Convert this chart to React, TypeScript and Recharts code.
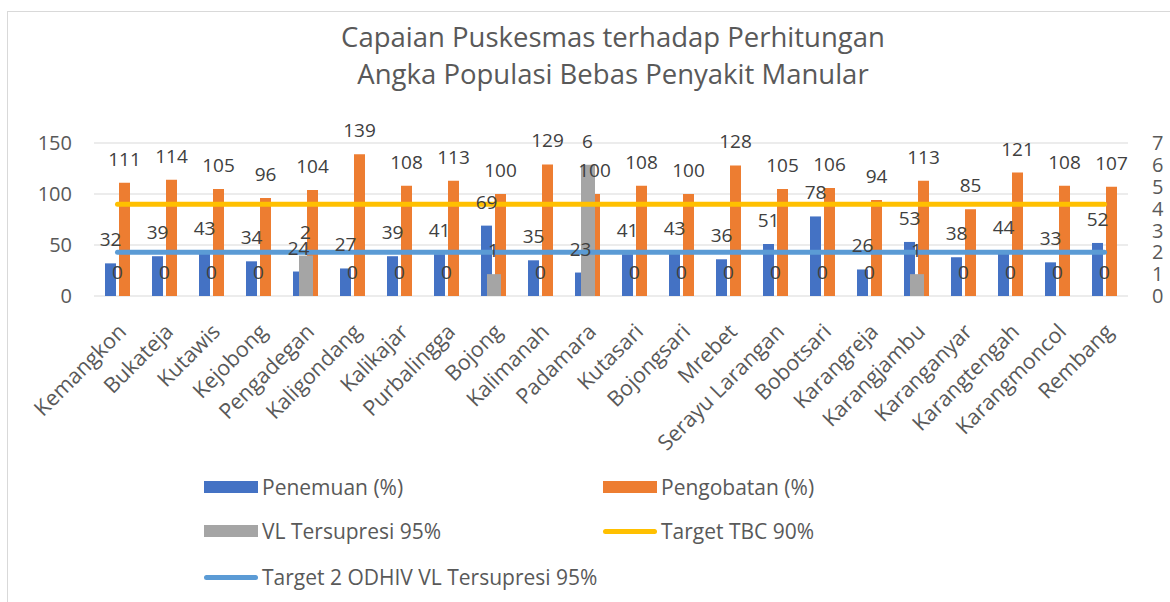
import React from "react";
import {
  Bar,
  CartesianGrid,
  ComposedChart,
  LabelList,
  Legend,
  Line,
  XAxis,
  YAxis
} from "recharts";

const categories = [
  "Kemangkon", "Bukateja", "Kutawis", "Kejobong", "Pengadegan", "Kaligondang",
  "Kalikajar", "Purbalingga", "Bojong", "Kalimanah", "Padamara", "Kutasari",
  "Bojongsari", "Mrebet", "Serayu Larangan", "Bobotsari", "Karangreja",
  "Karangjambu", "Karanganyar", "Karangtengah", "Karangmoncol", "Rembang"
];
const penemuan = [32, 39, 43, 34, 24, 27, 39, 41, 69, 35, 23, 41, 43, 36, 51, 78, 26, 53, 38, 44, 33, 52];
const pengobatan = [111, 114, 105, 96, 104, 139, 108, 113, 100, 129, 100, 108, 100, 128, 105, 106, 94, 113, 85, 121, 108, 107];
const vlTersupresi = [0, 0, 0, 0, 1.85, 0, 0, 0, 1, 0, 6, 0, 0, 0, 0, 0, 0, 1, 0, 0, 0, 0];
const targetTbc = [90, 90, 90, 90, 90, 90, 90, 90, 90, 90, 90, 90, 90, 90, 90, 90, 90, 90, 90, 90, 90, 90];
const targetOdhiv = [2, 2, 2, 2, 2, 2, 2, 2, 2, 2, 2, 2, 2, 2, 2, 2, 2, 2, 2, 2, 2, 2];
const leftTicks = [0, 50, 100, 150];
const rightTicks = [0, 1, 2, 3, 4, 5, 6, 7];

const data = categories.map((name, i) => ({
  name,
  penemuan: penemuan[i],
  pengobatan: pengobatan[i],
  vl: vlTersupresi[i],
  tbc: targetTbc[i],
  odhiv: targetOdhiv[i]
}));

const font = "'Open Sans', sans-serif";
const textColor = "#595959";
const labelColor = "#404040";

const XTick = ({ x, y, payload }: any) => (
  <text
    x={0}
    y={0}
    transform={`translate(${x + 10},${y + 29}) rotate(-45)`}
    textAnchor="end"
    fill={textColor}
    fontSize={21.5}
    fontFamily={font}
  >
    {payload.value}
  </text>
);

const legendRows = [
  { label: "Penemuan (%)", color: "#4472C4", type: "rect", x: 204, y: 22 },
  { label: "Pengobatan (%)", color: "#ED7D31", type: "rect", x: 603, y: 22 },
  { label: "VL Tersupresi 95%", color: "#A5A5A5", type: "rect", x: 204, y: 66 },
  { label: "Target TBC 90%", color: "#FFC000", type: "line", x: 603, y: 66 },
  { label: "Target 2 ODHIV VL Tersupresi 95%", color: "#5B9BD5", type: "line", x: 204, y: 112 }
];

const renderLegend = () => (
  <div style={{ position: "relative", width: 1170, height: 137 }}>
    {legendRows.map((row) => (
      <div
        key={row.label}
        style={{ position: "absolute", left: row.x, top: row.y - 15, height: 30, display: "flex", alignItems: "center" }}
      >
        {row.type === "rect" ? (
          <div style={{ width: 54, height: 12, background: row.color }} />
        ) : (
          <div style={{ width: 54, height: 5, borderRadius: 3, background: row.color }} />
        )}
        <span style={{ marginLeft: 4, fontSize: 21, color: textColor, fontFamily: font, whiteSpace: "nowrap" }}>
          {row.label}
        </span>
      </div>
    ))}
  </div>
);

const roundLabel = (v: any) => String(Math.round(Number(v)));

export default function App() {
  return (
    <div style={{ position: "absolute", left: 0, top: 0, width: 1170, height: 602, overflow: "hidden", background: "#fff" }}>
      <div style={{ position: "absolute", left: 7, top: 11, width: 1180, height: 620, border: "1px solid #D9D9D9" }} />
      <div
        style={{
          position: "absolute",
          left: 263,
          top: 18,
          width: 700,
          textAlign: "center",
          fontFamily: font,
          fontSize: 27.5,
          lineHeight: "37px",
          color: textColor
        }}
      >
        Capaian Puskesmas terhadap Perhitungan
        <br />
        Angka Populasi Bebas Penyakit Manular
      </div>
      <div style={{ position: "absolute", left: 0, top: 0 }}>
        <ComposedChart
          width={1170}
          height={602}
          data={data}
          margin={{ top: 143, right: 0, left: 0, bottom: 0 }}
          barGap={3}
        >
          <CartesianGrid vertical={false} stroke="#D9D9D9" xAxisId="main" yAxisId="left" />
          <XAxis
            xAxisId="main"
            dataKey="name"
            height={306}
            interval={0}
            tickLine={false}
            axisLine={false}
            tick={<XTick />}
          />
          <XAxis xAxisId="vl" dataKey="name" hide />
          <YAxis
            yAxisId="left"
            width={94}
            domain={[0, 150]}
            ticks={leftTicks}
            interval={0}
            tickLine={false}
            axisLine={false}
            tickMargin={16}
            tick={{ fill: textColor, fontSize: 20, fontFamily: font }}
          />
          <YAxis
            yAxisId="right"
            orientation="right"
            width={42}
            domain={[0, 7]}
            ticks={rightTicks}
            interval={0}
            tickLine={false}
            axisLine={false}
            tickMargin={18}
            tick={{ fill: textColor, fontSize: 20, fontFamily: font, textAnchor: "start" }}
          />
          <Bar xAxisId="main" yAxisId="left" dataKey="penemuan" name="Penemuan (%)" fill="#4472C4" barSize={11} isAnimationActive={false}>
            <LabelList dataKey="penemuan" position="top" offset={17} fill={labelColor} fontSize={19} fontFamily={font} />
          </Bar>
          <Bar xAxisId="main" yAxisId="left" dataKey="pengobatan" name="Pengobatan (%)" fill="#ED7D31" barSize={11} isAnimationActive={false}>
            <LabelList dataKey="pengobatan" position="top" offset={17} fill={labelColor} fontSize={19} fontFamily={font} />
          </Bar>
          <Bar xAxisId="vl" yAxisId="right" dataKey="vl" name="VL Tersupresi 95%" fill="#A5A5A5" barSize={14} isAnimationActive={false} />
          {/* labels for the gray series, zero values included */}
          <Line
            xAxisId="vl"
            yAxisId="right"
            dataKey="vl"
            stroke="none"
            dot={false}
            activeDot={false}
            legendType="none"
            isAnimationActive={false}
          >
            <LabelList
              dataKey="vl"
              position="top"
              offset={17}
              fill={labelColor}
              fontSize={19}
              fontFamily={font}
              formatter={roundLabel}
            />
          </Line>
          <Line
            xAxisId="main"
            yAxisId="left"
            dataKey="tbc"
            name="Target TBC 90%"
            stroke="#FFC000"
            strokeWidth={5}
            strokeLinecap="round"
            dot={false}
            isAnimationActive={false}
          />
          <Line
            xAxisId="main"
            yAxisId="right"
            dataKey="odhiv"
            name="Target 2 ODHIV VL Tersupresi 95%"
            stroke="#5B9BD5"
            strokeWidth={5}
            strokeLinecap="round"
            dot={false}
            isAnimationActive={false}
          />
          <Legend
            layout="horizontal"
            verticalAlign="middle"
            align="center"
            content={renderLegend}
            wrapperStyle={{ top: 465, left: 0, width: 1170, height: 137 }}
          />
        </ComposedChart>
      </div>
    </div>
  );
}
